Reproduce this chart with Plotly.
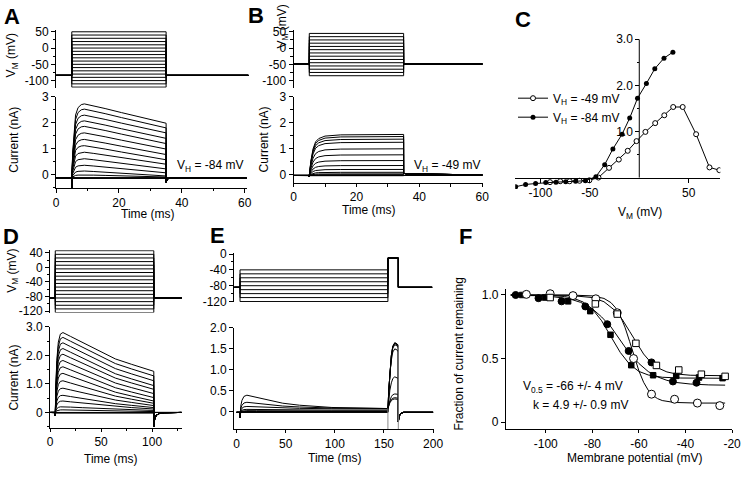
import plotly.graph_objects as go

W, H = 750, 477
FONT = "Arial, 'Liberation Sans', Helvetica, sans-serif"

# ---------------- DATA ----------------
# Panel A (holding -84 mV)
A_hold = -84
A_t_on, A_t_off, A_t_max = 5, 35, 61.2
A_steps_mV = [-120, -110, -100, -90, -80, -70, -60, -50, -40, -30, -20, -10, 0, 10, 20, 30, 40, 50]
A_base = -0.12
A_peak = [2.72, 2.52, 2.29, 2.07, 1.86, 1.61, 1.36, 1.12, 0.87, 0.62, 0.37, 0.15, 0.0]
A_end = [1.98, 1.80, 1.61, 1.40, 1.20, 0.99, 0.78, 0.58, 0.41, 0.23, 0.08, -0.04, -0.08]
A_flat = [-0.10, -0.12, -0.13, -0.14, -0.11]
A_rise_t = [5.0, 5.3, 5.7, 6.2, 7.0, 8.0, 9.0]
A_rise_f = [0.0, 0.35, 0.65, 0.85, 0.95, 0.99, 1.0]
A_decay_t = [9.0, 12.0, 15.6, 20.8, 26.0, 31.2, 35.0]
A_decay_f = [1.0, 0.9, 0.76, 0.55, 0.34, 0.14, 0.0]
A_tail_t = [35.0, 35.4, 36.5, 60.6]
A_tail_v = [-0.28, -0.15, -0.12, -0.12]
A_spike = -0.5

# Panel B (holding -49 mV)
B_hold = -49
B_t_on, B_t_off, B_t_max = 5, 35, 60.1
B_steps_mV = [-85, -75, -65, -55, -45, -35, -25, -15, -5, 5, 15, 25, 35, 45]
B_base = -0.02
B_plateau = [1.55, 1.47, 1.37, 1.25, 1.00, 0.77, 0.55, 0.36, 0.21, 0.10, 0.04, 0.01]
B_flat = [-0.02, -0.03, -0.02]
B_rise_t = [5.0, 5.5, 6.2, 7.0, 8.0, 10.0, 15.0, 35.0]
B_rise_f = [0.0, 0.35, 0.65, 0.82, 0.9, 0.96, 0.99, 1.0]
B_tail_t = [35.0, 36.0, 40.0, 50.0, 60.1]
B_tail_v = [0.06, 0.04, 0.03, 0.01, 0.0]

# Panel C (I-V)
C_open_V = [-90.3, -80.0, -70.4, -60.4, -50.5, -41.3, -30.6, -20.7, -11.7, -2.8, 6.2, 16.1, 25.3, 34.3, 43.9, 57.5, 71.0, 81.0]
C_open_I = [-0.10, -0.08, -0.08, -0.07, -0.06, 0.0, 0.21, 0.39, 0.58, 0.79, 0.99, 1.18, 1.35, 1.53, 1.53, 0.94, 0.22, 0.16]
C_fill_V = [-125, -115, -104.9, -94.6, -84.3, -74.4, -64.4, -54.5, -43.9, -35.0, -26.7, -17.4, -9.7, -1.8, 7.2, 15.7, 25.0, 34.0]
C_fill_I = [-0.20, -0.15, -0.13, -0.11, -0.10, -0.09, -0.08, -0.07, 0.02, 0.28, 0.62, 0.94, 1.29, 1.72, 2.04, 2.36, 2.59, 2.72]

# Panel D (long pulses, holding -84 mV)
D_hold = -84
D_t_on, D_t_off, D_t_max = 5, 101.7, 129
D_steps_mV = [-124, -114, -104, -94, -84, -74, -64, -54, -44, -34, -24, -14, -4, 6, 16, 26, 36, 46]
D_base = 0.0
D_peak = [2.80, 2.63, 2.44, 2.24, 2.04, 1.82, 1.60, 1.37, 1.11, 0.85, 0.60, 0.40, 0.20, 0.09]
D_end = [1.44, 1.28, 1.11, 0.94, 0.81, 0.66, 0.52, 0.40, 0.32, 0.24, 0.17, 0.12, 0.07, 0.03]
D_flat = [0.0, -0.01, -0.02]
D_rise_t = [5.0, 5.5, 6.5, 8.0, 10.0, 12.5]
D_rise_f = [0.0, 0.3, 0.65, 0.88, 0.98, 1.0]
D_decay_t = [12.5, 20, 32, 48, 64, 80, 96, 101.7]
D_decay_f = [1.0, 0.9, 0.74, 0.52, 0.32, 0.18, 0.05, 0.0]
D_tail_t = [101.7, 102.5, 104, 107, 112, 129]
D_tail_v = [-0.5, -0.25, -0.1, -0.04, -0.01, 0.0]
D_spike = -0.12

# Panel E (steady-state inactivation protocol)
E_hold = -84
E_t_start, E_t_on, E_t_test, E_t_test_end, E_t_max = -2.5, 3.5, 154, 164.6, 199
E_test_mV = -10
E_steps_mV = [-120, -110, -100, -90, -80, -70, -60, -50, -40]
E_base = -0.02
E_cond_peak = [-0.02, -0.02, -0.01, 0.0, 0.02, 0.05, 0.12, 0.22, 0.39]
E_resid = [-0.02, -0.02, -0.01, 0.0, 0.01, 0.03, 0.06, 0.07, 0.07]
E_test_peak = [1.65, 1.64, 1.63, 1.60, 1.50, 0.83, 0.42, 0.33, 0.30]
E_rise_t = [3.5, 4.2, 5.5, 7.5, 10.5]
E_rise_f = [0.0, 0.35, 0.7, 0.93, 1.0]
E_decay_t = [10.5, 20, 30, 47, 64, 97, 154]
E_decay_f = [1.0, 0.85, 0.64, 0.4, 0.25, 0.08, 0.0]
E_test_t = [154, 154.8, 156, 157.5, 159, 161, 163.5, 164.6]
E_test_f = [0.0, 0.3, 0.6, 0.82, 0.95, 1.0, 0.98, 0.95]
E_tail_t = [164.6, 165.4, 167, 170, 200]
E_tail_v = [-0.25, -0.12, -0.05, -0.02, -0.02]
E_cap_t = [154.0, 164.6]
E_cap_top = [0.07, 1.6]
E_cap_low = -0.45

# Panel F (fraction remaining)
F_fc_V = [-112.9, -103.1, -93.2, -83.0, -73.6, -64.4, -54.6, -45.4, -35.3]
F_fc_f = [1.0, 0.975, 0.95, 0.91, 0.77, 0.56, 0.47, 0.32, 0.31]
F_fs_V = [-110.1, -100.3, -90.4, -80.9, -72.2, -63.3, -53.9, -44.0, -34.2, -24.1]
F_fs_f = [1.0, 0.98, 0.95, 0.873, 0.687, 0.448, 0.369, 0.364, 0.351, 0.346]
F_oc_V = [-108.3, -98.1, -88.3, -78.5, -69.3, -62.3, -54.6, -44.7, -34.9, -25.3]
F_oc_f = [1.005, 1.01, 0.995, 0.97, 0.86, 0.50, 0.22, 0.18, 0.15, 0.13]
F_os_V = [-98.1, -78.7, -69.3, -61.3, -52.5, -42.9, -33.2, -23.0]
F_os_f = [0.98, 0.93, 0.85, 0.62, 0.446, 0.41, 0.377, 0.36]
# fitted curves
F_oc_fitV = [-115, -90, -80, -75, -72, -70, -68, -66, -64, -62, -60, -58, -56, -54, -52, -50, -45, -35, -23]
F_oc_fit = [1.0, 1.0, 0.993, 0.973, 0.94, 0.899, 0.836, 0.747, 0.635, 0.515, 0.403, 0.314, 0.251, 0.21, 0.185, 0.17, 0.155, 0.15, 0.15]
F_os_fitV = [-115, -90, -80, -75, -70, -67, -64, -61, -58, -55, -52, -48, -44, -38, -30, -23]
F_os_fit = [1.0, 0.997, 0.98, 0.947, 0.874, 0.803, 0.714, 0.62, 0.536, 0.472, 0.428, 0.395, 0.379, 0.369, 0.365, 0.365]
F_fc_fitV = [-115, -100, -90, -85, -80, -76, -72, -68, -64, -60, -56, -52, -48, -44, -38, -30, -23]
F_fc_fit = [0.999, 0.993, 0.971, 0.942, 0.892, 0.827, 0.749, 0.645, 0.539, 0.461, 0.398, 0.356, 0.329, 0.312, 0.30, 0.293, 0.291]
F_fs_fitV = [-115, -100, -92, -88, -84, -80, -76, -72, -68, -64, -60, -56, -50, -42, -30, -23]
F_fs_fit = [1.0, 0.998, 0.988, 0.974, 0.945, 0.89, 0.797, 0.6725, 0.548, 0.455, 0.399, 0.371, 0.353, 0.347, 0.345, 0.345]

# ---------------- HELPERS ----------------
fig = go.Figure()


def aid(n):
    return '' if n == 1 else str(n)


def add_line(xs, ys, n, color='black', width=1):
    fig.add_trace(go.Scatter(x=xs, y=ys, xaxis='x' + aid(n), yaxis='y' + aid(n), mode='lines',
                             line=dict(color=color, width=width), showlegend=False, hoverinfo='skip'))


def vsteps(levels, hold, t0, t_on, t_off, t_end, test=None, t_test_end=None):
    xs, ys = [], []
    for v in levels:
        if test is None:
            xs += [t0, t_on, t_on, t_off, t_off, t_end, None]
            ys += [hold, hold, v, v, hold, hold, None]
        else:
            xs += [t0, t_on, t_on, t_off, t_off, t_test_end, t_test_end, t_end, None]
            ys += [hold, hold, v, v, test, test, hold, hold, None]
    return xs, ys


def ionic(t0, t_on, base, peak, end, rise_t, rise_f, decay_t, decay_f, tail_t, tail_v, spike=None):
    xs, ys = [t0, t_on], [base, base]
    if spike is not None:
        xs.append(t_on); ys.append(spike)
    for t, f in zip(rise_t, rise_f):
        xs.append(t); ys.append(base + (peak - base) * f)
    for t, f in zip(decay_t[1:], decay_f[1:]):
        xs.append(t); ys.append(end + (peak - end) * f)
    for t, v in zip(tail_t, tail_v):
        xs.append(t); ys.append(v)
    return xs, ys


def joined(segs):
    X, Y = [], []
    for x, y in segs:
        X += list(x) + [None]
        Y += list(y) + [None]
    return X, Y


def xdom(r, zero_px, ppu):
    return [(zero_px + r[0] * ppu) / W, (zero_px + r[1] * ppu) / W]


def ydom(r, zero_py, ppu):
    return [1 - (zero_py - r[0] * ppu) / H, 1 - (zero_py - r[1] * ppu) / H]


def axis(domain, rng, tickvals=None, ticktext=None, minor=None, **kw):
    d = dict(domain=domain, range=rng, showgrid=False, zeroline=False, showline=True,
             linecolor='black', linewidth=1, ticks='outside', ticklen=4, tickwidth=1,
             tickcolor='black', tickfont=dict(size=12, family=FONT, color='black'),
             fixedrange=True)
    if tickvals is not None:
        d['tickmode'] = 'array'
        d['tickvals'] = tickvals
        d['ticktext'] = ticktext if ticktext is not None else [str(v) for v in tickvals]
    if minor is not None:
        d['minor'] = dict(tickvals=minor, ticklen=2.5, tickwidth=1, tickcolor='black', ticks='outside', showgrid=False)
    d.update(kw)
    return d


lay = {}

# ---------------- PANEL A ----------------
xs, ys = vsteps(A_steps_mV, A_hold, 0, A_t_on, A_t_off, A_t_max)
add_line(xs, ys, 1)
segs = []
for p, e in zip(A_peak, A_end):
    segs.append(ionic(0, A_t_on, A_base, p, e, A_rise_t, A_rise_f, A_decay_t, A_decay_f, A_tail_t, A_tail_v, A_spike))
for b in A_flat:
    segs.append(([0, A_t_on, A_t_off, A_t_off, 60.6], [A_base, A_base, b, A_base, A_base]))
X, Y = joined(segs)
add_line(X, Y, 2)
lay['xaxis'] = axis(xdom([0, 61.2], 54, 3.2), [0, 61.2], visible=False)
lay['yaxis'] = axis(ydom([-122, 54], 42.3, 0.3353), [-122, 54], [-100, -50, 0, 50], minor=[-75, -25, 25], anchor='x')
lay['xaxis2'] = axis(xdom([0, 60.6], 54, 3.2), [0, 60.6], [0, 20, 40, 60], minor=[10, 30, 50], anchor='y2')
lay['yaxis2'] = axis(ydom([-0.5, 3.0], 173, 26.9), [-0.5, 3.0], [0, 1, 2, 3], minor=[-0.5, 0.5, 1.5, 2.5], anchor='x2')

# ---------------- PANEL B ----------------
xs, ys = vsteps(B_steps_mV, B_hold, 0, B_t_on, B_t_off, B_t_max)
add_line(xs, ys, 3)
segs = []
for p in B_plateau:
    segs.append(ionic(0, B_t_on, B_base, p, p, B_rise_t, B_rise_f, [B_t_off], [1.0], B_tail_t, B_tail_v, -0.08))
for b in B_flat:
    segs.append(([0, B_t_on, B_t_off, B_t_off, 60.1], [B_base, b, b, B_base, B_base]))
X, Y = joined(segs)
add_line(X, Y, 4)
lay['xaxis3'] = axis(xdom([0, 60.1], 295.7, 3.2), [0, 60.1], visible=False)
lay['yaxis3'] = axis(ydom([-122, 54], 42.3, 0.3353), [-122, 54], [-100, -50, 0, 50], minor=[-75, -25, 25], anchor='x3')
lay['xaxis4'] = axis(xdom([0, 60.1], 295.7, 3.2), [0, 60.1], [0, 20, 40, 60], minor=[10, 30, 50], anchor='y4', ticklen=3)
lay['yaxis4'] = axis(ydom([-0.31, 3.0], 173, 26.9), [-0.31, 3.0], [0, 1, 2, 3], minor=[0.5, 1.5, 2.5], anchor='x4')

# ---------------- PANEL C ----------------
fig.add_trace(go.Scatter(x=C_open_V, y=C_open_I, xaxis='x5', yaxis='y5', mode='lines+markers',
                         line=dict(color='black', width=1),
                         marker=dict(symbol='circle', size=5, color='white', line=dict(color='black', width=1)),
                         name='V<sub>H</sub> = -49 mV', hoverinfo='skip'))
fig.add_trace(go.Scatter(x=C_fill_V, y=C_fill_I, xaxis='x5', yaxis='y5', mode='lines+markers',
                         line=dict(color='black', width=1),
                         marker=dict(symbol='circle', size=5, color='black'),
                         name='V<sub>H</sub> = -84 mV', hoverinfo='skip'))
C_xr, C_yr = [-125.5, 82], [-0.25, 3.0]
lay['xaxis5'] = axis(xdom(C_xr, 647.5, 1.006), C_xr, [-100, -50, 50], anchor='free', position=1 - 175.7 / H)
lay['yaxis5'] = axis(ydom(C_yr, 175.7, 47.5), C_yr, [1, 2, 3], ['1.0', '2.0', '3.0'], minor=[0.5, 1.5, 2.5],
                     anchor='free', position=647.5 / W, showline=False)

# ---------------- PANEL D ----------------
xs, ys = vsteps(D_steps_mV, D_hold, 0, D_t_on, D_t_off, D_t_max)
add_line(xs, ys, 6)
segs = []
for p, e in zip(D_peak, D_end):
    segs.append(ionic(0, D_t_on, D_base, p, e, D_rise_t, D_rise_f, D_decay_t, D_decay_f, D_tail_t, D_tail_v, D_spike))
for b in D_flat:
    segs.append(([0, D_t_on, D_t_off, D_t_off, D_t_max], [D_base, b, b, D_base, D_base]))
X, Y = joined(segs)
add_line(X, Y, 7)
D_xr = [0, 129]
lay['xaxis6'] = axis(xdom(D_xr, 48, 1.037), D_xr, visible=False)
lay['yaxis6'] = axis(ydom([-124, 47], 268.3, 0.375), [-124, 47], [-120, -80, -40, 0, 40], minor=[-100, -60, -20, 20], anchor='x6')
lay['xaxis7'] = axis(xdom(D_xr, 48, 1.037), D_xr, [0, 50, 100], minor=[25, 75, 125], anchor='y7', ticklen=3)
lay['yaxis7'] = axis(ydom([-0.53, 3.0], 417.7, 29.4), [-0.53, 3.0], [0, 1, 2, 3], ['0', '1.0', '2.0', '3.0'],
                     minor=[-0.5, 0.5, 1.5, 2.5], anchor='x7')

# ---------------- PANEL E ----------------
xs, ys = vsteps(E_steps_mV, E_hold, E_t_start, E_t_on, E_t_test, E_t_max, E_test_mV, E_t_test_end)
add_line(xs, ys, 8)
segs = []
for p, r, q in zip(E_cond_peak, E_resid, E_test_peak):
    x1, y1 = ionic(0, E_t_on, E_base, p, r, E_rise_t, E_rise_f, E_decay_t, E_decay_f, [], [], -0.15)
    for t, f in zip(E_test_t[1:], E_test_f[1:]):
        x1.append(t); y1.append(r + (q - r) * f)
    for t, v in zip(E_tail_t, E_tail_v):
        x1.append(t); y1.append(v)
    segs.append((x1, y1))
X, Y = joined(segs)
add_line(X, Y, 9)
gx, gy = [], []
for t, top in zip(E_cap_t, E_cap_top):
    gx += [t, t, None]; gy += [top, E_cap_low, None]
add_line(gx, gy, 9, color='#8a8a8a', width=1)
E_xr = [-2.5, 200.5]
lay['xaxis8'] = axis(xdom(E_xr, 237.7, 1.0), E_xr, visible=False)
lay['yaxis8'] = axis(ydom([-121, 2], 254.5, 0.408), [-121, 2], [-120, -80, -40, 0], minor=[-100, -60, -20], anchor='x8')
lay['xaxis9'] = axis(xdom(E_xr, 237.7, 1.0), E_xr, [0, 50, 100, 150, 200], anchor='y9', ticklen=3)
lay['yaxis9'] = axis(ydom([-0.43, 2.0], 416.7, 43.0), [-0.43, 2.0], [0, 0.5, 1.0, 1.5, 2.0],
                     ['0', '0.5', '1.0', '1.5', '2.0'], anchor='x9')

# ---------------- PANEL F ----------------
for fv, ff in [(F_oc_fitV, F_oc_fit), (F_os_fitV, F_os_fit), (F_fc_fitV, F_fc_fit), (F_fs_fitV, F_fs_fit)]:
    add_line(fv, ff, 10)
for vv, ff, sym, size, fill in [(F_fc_V, F_fc_f, 'circle', 7, 'black'), (F_fs_V, F_fs_f, 'square', 5.5, 'black'),
                                 (F_oc_V, F_oc_f, 'circle', 8, 'white'), (F_os_V, F_os_f, 'square', 6.5, 'white')]:
    fig.add_trace(go.Scatter(x=vv, y=ff, xaxis='x10', yaxis='y10', mode='markers',
                             marker=dict(symbol=sym, size=size, color=fill, line=dict(color='black', width=1)),
                             showlegend=False, hoverinfo='skip'))
F_xr, F_yr = [-117.1, -19.9], [-0.055, 1.05]
lay['xaxis10'] = axis(xdom(F_xr, 552.3 + 100 * 2.371, 2.371), F_xr, [-100, -80, -60, -40, -20], anchor='y10', ticklen=3)
lay['yaxis10'] = axis(ydom(F_yr, 427.7, 131.0), F_yr, [0, 0.5, 1.0], ['0', '0.5', '1.0'], anchor='x10')

# ---------------- ANNOTATIONS ----------------
ann = []


def text(px, py, s, size=12, angle=0, bold=False, xanchor='center'):
    ann.append(dict(x=px / W, y=1 - py / H, xref='paper', yref='paper', text=('<b>%s</b>' % s) if bold else s,
                    showarrow=False, textangle=angle, xanchor=xanchor, yanchor='middle',
                    font=dict(size=size, family=FONT, color='black')))


for lab, px, py in [('A', 9, 10), ('B', 257, 9), ('C', 529, 13), ('D', 8, 236), ('E', 218, 235), ('F', 471, 236)]:
    text(px, py, lab, size=22, bold=True)
text(9, 50, 'V<sub>M</sub> (mV)', angle=-90)
text(11, 137, 'Current (nA)', angle=-90)
text(148, 213, 'Time (ms)')
text(211, 164, 'V<sub>H</sub> = -84 mV')
text(285, 20, 'V<sub>M</sub> (mV)', angle=-90)
text(266, 136, 'Current (nA)', angle=-90)
text(372, 209, 'Time (ms)')
text(452, 164, 'V<sub>H</sub> = -49 mV')
text(648, 212, 'V<sub>M</sub> (mV)')
text(10, 272, 'V<sub>M</sub> (mV)', angle=-90)
text(11, 382, 'Current (nA)', angle=-90)
text(110, 466, 'Time (ms)')
text(338, 465, 'Time (ms)')
text(464, 357, 'Fraction of current remaining', angle=-90)
text(643, 465, 'Membrane potential (mV)')
text(527, 392, 'V<sub>0.5</sub> = -66 +/- 4 mV', xanchor='left')
text(537, 410, 'k = 4.9 +/- 0.9 mV', xanchor='left')

shapes = [dict(type='line', xref='x5', yref='y5', x0=0, x1=0, y0=0, y1=3.0, line=dict(color='black', width=1))]

fig.update_layout(
    width=W, height=H, margin=dict(l=0, r=0, t=0, b=0),
    paper_bgcolor='white', plot_bgcolor='rgba(0,0,0,0)',
    font=dict(family=FONT, size=12, color='black'),
    annotations=ann, shapes=shapes,
    showlegend=True,
    legend=dict(x=519 / W, y=1 - 79 / H, xanchor='left', yanchor='top', bgcolor='rgba(0,0,0,0)',
                font=dict(size=12, family=FONT), itemwidth=30, tracegroupgap=0),
    **lay,
)

fig.write_html("out.html", config={'displayModeBar': False},
               post_script="document.body.style.margin='0px';document.body.style.overflow='hidden';")
